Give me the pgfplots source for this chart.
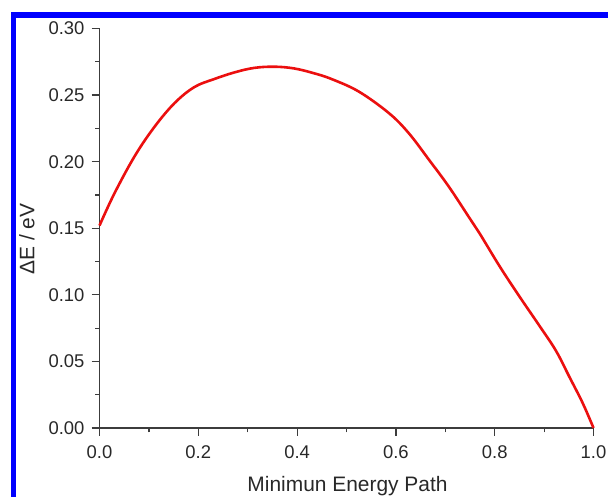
\documentclass[border=0pt]{standalone}
\usepackage{fontspec}
\setmainfont{Liberation Sans}
\usepackage{pgfplots}
\pgfplotsset{compat=1.18}
\definecolor{axisgray}{RGB}{60,60,60}
\definecolor{textgray}{RGB}{40,40,40}
\definecolor{curvered}{RGB}{235,15,15}
\begin{document}
\begin{tikzpicture}[x=1bp,y=1bp]
\path[use as bounding box] (0,0) rectangle (608,497);
% blue frame around the figure
\draw[blue, line width=5.5bp] (13.5,-30) rectangle (660,482);
\begin{axis}[
  at={(99.5bp,69bp)}, anchor=south west,
  scale only axis,
  width=494bp, height=399.5bp,
  xmin=0, xmax=1, ymin=0, ymax=0.30,
  axis lines=left,
  axis line style={axisgray, line width=1.3bp, -},
  every tick/.style={axisgray, line width=1.2bp},
  tick align=outside,
  major tick length=8bp,
  minor tick length=4.5bp,
  xtick={0,0.2,...,1.0},
  ytick={0,0.05,...,0.30},
  minor x tick num=1,
  minor y tick num=1,
  /pgf/number format/assume math mode=true,
  tick label style={font=\fontsize{18.5}{21}\selectfont, text=textgray},
  xticklabel style={yshift=-6.5bp, /pgf/number format/.cd, fixed, fixed zerofill, precision=1},
  yticklabel style={xshift=-3.5bp, /pgf/number format/.cd, fixed, fixed zerofill, precision=2},
  xlabel={Minimun Energy Path},
  ylabel={ΔE / eV},
  every axis x label/.style={at={(axis description cs:0.502,-0.1577)}, anchor=base,
    font=\fontsize{21}{24}\selectfont, text=textgray},
  every axis y label/.style={at={(axis description cs:-0.1468,0.473)}, anchor=center, rotate=90,
    font=\fontsize{21}{24}\selectfont, text=textgray},
  clip=false,
]
\addplot[curvered, line width=2.6bp, smooth, tension=0.6] coordinates {
  (0.000,0.1520) (0.030,0.1760) (0.071,0.2040) (0.111,0.2260)
  (0.152,0.2440) (0.192,0.2560) (0.232,0.2620) (0.273,0.2670)
  (0.313,0.2704) (0.354,0.2713) (0.394,0.2700) (0.434,0.2664)
  (0.470,0.2620) (0.525,0.2526) (0.586,0.2364) (0.626,0.2214)
  (0.667,0.2014) (0.707,0.1813) (0.747,0.1588) (0.769,0.1464)
  (0.810,0.1214) (0.850,0.0988) (0.891,0.0765) (0.924,0.0580)
  (0.951,0.0385) (0.978,0.0188) (1.000,0.0000)
};
\end{axis}
\end{tikzpicture}
\end{document}
